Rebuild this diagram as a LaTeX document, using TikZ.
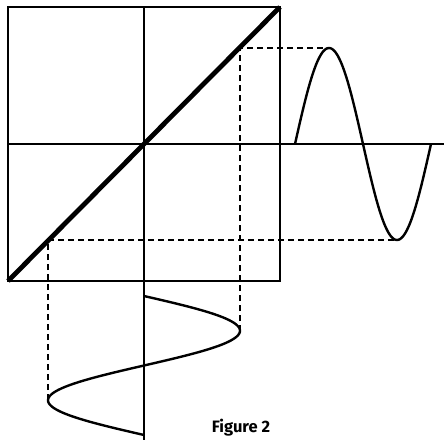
\documentclass[tikz,border=0pt]{standalone}
\usepackage{fontspec}
\newfontfamily\captionfont{Fira Sans}
\usetikzlibrary{positioning}

\begin{document}
\begin{tikzpicture}[
  x=1pt, y=-1pt,
  every node/.style={font=\captionfont\bfseries\fontsize{16.5}{19}\selectfont},
  axisline/.style={line width=1.2pt},
  transfer/.style={line width=4.8pt},
  wave/.style={line width=2.4pt, line join=round},
  guide/.style={line width=1.1pt, dash pattern=on 6pt off 4pt},
]
\useasboundingbox (0,0) rectangle (444,440);

% ---- Transfer square and axes ----
\coordinate (sq_tl) at (8,7);
\coordinate (sq_br) at (280,281);
\coordinate (sq_bl) at (8,281);
\coordinate (sq_tr) at (280,7);
\coordinate (v_top) at (144,7);
\coordinate (v_bot) at (144,440);
\coordinate (h_left) at (8,144);
\coordinate (h_right) at (444,144);

\draw[axisline] (sq_tl) rectangle (sq_br);
\draw[axisline] (v_top) -- (v_bot);
\draw[axisline] (h_left) -- (h_right);
\draw[transfer] (sq_bl) -- (sq_tr);

% ---- Output wave (right) ----
\draw[wave] plot[domain=0:360, samples=120] ({295+\x/360*136}, {144-96*sin(\x)});
\coordinate (out_peak) at (329,48);
\coordinate (out_trough) at (397,240);

% ---- Input wave (below) ----
\draw[wave] plot[domain=0:360, samples=120] ({144+96*sin(\x)}, {296+\x/360*139});
\coordinate (in_peak) at (240,331);
\coordinate (in_trough) at (48,400);

% ---- Projection guides ----
\coordinate (hi_pt) at (240,48);
\coordinate (lo_pt) at (48,240);
\draw[guide] (in_peak) -- (hi_pt) -- (out_peak);
\draw[guide] (in_trough) -- (lo_pt) -- (out_trough);

\node (caption) at (241,428) {Figure 2};

\end{tikzpicture}
\end{document}
